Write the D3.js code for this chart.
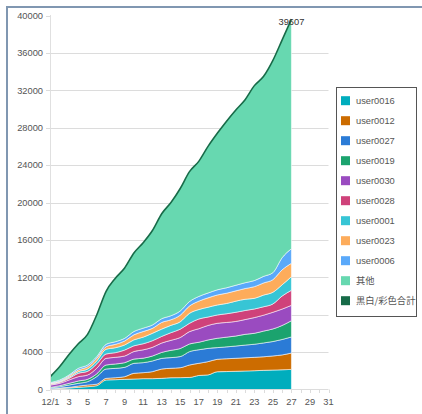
<!DOCTYPE html>
<html><head><meta charset="utf-8">
<script src="https://cdn.jsdelivr.net/npm/d3@7/dist/d3.min.js"></script>
<style>body{margin:0;background:#fff} svg{display:block} text{font-family:"Liberation Sans",Arial,sans-serif}</style>
</head><body><svg id="c" width="422" height="414"></svg>
<script>
const days=[1,2,3,4,5,6,7,8,9,10,11,12,13,14,15,16,17,18,19,20,21,22,23,24,25,26,27];
const seriesNames=["user0016","user0012","user0027","user0019","user0030","user0028","user0001","user0023","user0006","其他"];
const totalName="黒白/彩色合計";
const user0016=[40,120,160,230,300,410,1020,1050,1090,1120,1160,1160,1190,1260,1270,1290,1500,1560,1900,1920,1950,1980,2010,2050,2080,2110,2150];
const user0012=[20,40,70,140,180,160,170,210,280,610,640,750,1000,1010,1060,1330,1300,1420,1330,1370,1390,1410,1430,1450,1510,1590,1750];
const user0027=[90,140,250,290,360,820,1000,1000,1000,1070,1070,1140,1140,1140,1190,1430,1450,1420,1250,1270,1310,1360,1400,1480,1540,1650,1720];
const user0019=[80,110,180,250,250,290,430,470,500,450,480,530,640,780,860,820,800,900,1000,1040,1070,1150,1170,1270,1350,1500,1740];
const user0030=[250,250,360,460,460,600,710,710,710,810,890,930,1000,1070,1180,1320,1450,1550,1600,1570,1560,1580,1680,1700,1780,1750,1640];
const user0028=[80,110,170,360,390,470,470,500,640,610,650,710,710,820,890,890,1040,900,890,930,980,970,920,900,890,1400,1610];
const user0001=[60,70,110,180,250,320,500,530,540,640,710,790,780,780,790,1070,1010,1050,1070,1100,1190,1200,1140,1250,1250,1200,1460];
const user0023=[60,70,140,180,250,280,280,360,430,540,600,530,710,600,710,780,900,1000,1070,1100,1100,1150,1250,1300,1350,1600,1430];
const user0006=[70,110,110,170,180,180,250,280,280,350,360,360,400,430,450,480,500,520,550,580,600,620,650,700,750,1300,1550];
const other=[650,1430,2200,2640,3280,4470,5670,6790,7530,8400,9140,10100,11230,12110,13100,13890,14450,15680,16740,17820,18750,19580,20850,21400,22700,23300,24557];
const total=[1400,2450,3750,4900,5900,8000,10500,11900,13000,14600,15700,17000,18800,20000,21500,23300,24400,26000,27400,28700,29900,31000,32500,33500,35200,37400,39607];
const yTicks=[0,4000,8000,12000,16000,20000,24000,28000,32000,36000,40000];
const xTicks=[1,3,5,7,9,11,13,15,17,19,21,23,25,27,29,31];
const xTickLabels=["12/1","3","5","7","9","11","13","15","17","19","21","23","25","27","29","31"];

const seriesValues=[user0016,user0012,user0027,user0019,user0030,user0028,user0001,user0023,user0006,other];
const colors=["#00adbd","#cc6c00","#2b7bd6","#1ba36e","#9a4bc0","#cf427a","#37c5d5","#fdac5b","#5aa9fa","#67d8b0"];
const totalColor="#176b48";

const table=days.map((d,i)=>{const r={day:d};seriesNames.forEach((n,k)=>r[n]=seriesValues[k][i]);return r;});

const svg=d3.select('#c');
svg.append('rect').attr('x',7).attr('y',7).attr('width',700).attr('height',700)
  .attr('fill','#fff').attr('stroke','#8097b1').attr('stroke-width',2);

const x=d3.scaleLinear().domain([1,31]).range([50.5,328.5]);
const y=d3.scaleLinear().domain([0,40000]).range([389.5,15.5]);
const fs=9.3;

// grid
svg.append('g').selectAll('line').data(yTicks.filter(t=>t>0&&t<40000)).join('line')
  .attr('x1',50.5).attr('x2',328.5).attr('y1',d=>Math.round(y(d))+0.5).attr('y2',d=>Math.round(y(d))+0.5)
  .attr('stroke','#dcdcdc').attr('stroke-width',1);

// stacked areas
const stack=d3.stack().keys(seriesNames)(table);
const area=d3.area().x(d=>x(d.data.day)).y0(d=>y(d[0])).y1(d=>y(d[1])).curve(d3.curveMonotoneX);
svg.append('g').selectAll('path').data(stack).join('path')
  .attr('d',area).attr('fill',(d,i)=>colors[i])
  .attr('stroke','rgba(255,255,255,0.55)').attr('stroke-width',1);

// total line
const line=d3.line().x((d,i)=>x(days[i])).y(d=>y(d)).curve(d3.curveMonotoneX);
svg.append('path').datum(total).attr('d',line).attr('fill','none')
  .attr('stroke',totalColor).attr('stroke-width',1.6);
svg.append('text').attr('x',x(days[days.length-1])).attr('y',y(total[total.length-1])+6)
  .attr('text-anchor','middle').attr('font-size',fs).attr('fill','#333').text(total[total.length-1]);

// y axis
const ya=svg.append('g');
ya.append('line').attr('x1',50.5).attr('x2',50.5).attr('y1',15).attr('y2',390).attr('stroke','#e0e0e0');
ya.selectAll('line.t').data(yTicks).join('line').attr('class','t')
  .attr('x1',46).attr('x2',50.5).attr('y1',d=>Math.round(y(d))+0.5).attr('y2',d=>Math.round(y(d))+0.5).attr('stroke','#dcdcdc');
ya.selectAll('text').data(yTicks).join('text')
  .attr('x',43).attr('y',d=>y(d)).attr('dy','0.35em').attr('text-anchor','end')
  .attr('font-size',fs).attr('fill','#555').text(d=>d);

// x axis
const xa=svg.append('g');
xa.append('line').attr('x1',50.5).attr('x2',328.5).attr('y1',389.5).attr('y2',389.5).attr('stroke','#dcdcdc');
xa.selectAll('line.t').data(d3.range(1,32)).join('line').attr('class','t')
  .attr('x1',d=>Math.round(x(d))+0.5).attr('x2',d=>Math.round(x(d))+0.5).attr('y1',389.5).attr('y2',393).attr('stroke','#dcdcdc');
xa.selectAll('text').data(xTicks).join('text')
  .attr('x',d=>x(d)).attr('y',401.5).attr('dy','0.35em').attr('text-anchor','middle')
  .attr('font-size',fs).attr('fill','#555').text((d,i)=>xTickLabels[i]);

// legend
const legNames=seriesNames.concat([totalName]);
const legColors=colors.concat([totalColor]);
const lg=svg.append('g');
lg.append('rect').attr('x',336.5).attr('y',87.5).attr('width',80).attr('height',229)
  .attr('fill','#fff').attr('stroke','#555');
legNames.forEach((n,i)=>{
  const cy=100.7+i*20;
  lg.append('rect').attr('x',341).attr('y',cy-4.5).attr('width',9).attr('height',9).attr('fill',legColors[i]);
  lg.append('text').attr('x',356).attr('y',cy).attr('dy','0.35em').attr('font-size',fs).attr('fill','#555')
    .style('font-family',/[^\x00-\x7f]/.test(n)?'"Noto Sans CJK JP",sans-serif':null).text(n);
});
</script></body></html>
